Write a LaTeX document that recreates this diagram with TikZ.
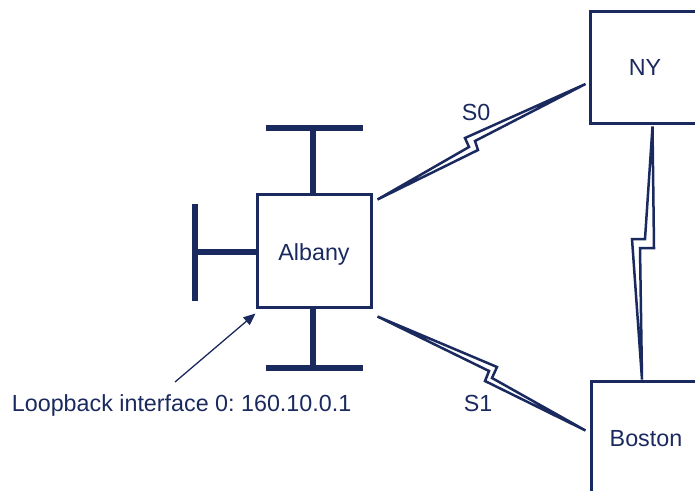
\documentclass[tikz,border=0pt]{standalone}
\usepackage{fontspec}
\setmainfont{Liberation Sans}
\usetikzlibrary{arrows.meta,calc}
\definecolor{navy}{RGB}{27,42,94}
\frenchspacing
\begin{document}
\begin{tikzpicture}[x=1pt,y=-1pt,
  box/.style={draw=navy,line width=3pt,inner sep=0pt,text=navy,font=\fontsize{23.3}{28}\selectfont,text height=16.7pt,text depth=0pt},
  lbl/.style={text=navy,font=\fontsize{23.3}{28}\selectfont,inner sep=0pt,text height=16.7pt,text depth=0pt},
  bar/.style={draw=navy,line width=5.3pt},
  serial/.style={draw=navy,line width=2.5pt,line join=miter},
  pointer/.style={draw=navy,line width=1.3pt,-{Triangle[length=12pt,width=10pt]}}]
\useasboundingbox (0,0) rectangle (695,490);
\clip (0,0) rectangle (695,490);
% routers
\node[box,minimum width=114pt,minimum height=113pt,text height=19pt] (albany) at (314,250.5) {Albany};
\node[box,minimum width=110pt,minimum height=112pt] (ny) at (645,67) {NY};
\node[box,minimum width=110pt,minimum height=140pt] (boston) at (646,451) {};
\node[lbl] (bostonlabel) at (646,438.5) {Boston};
% labels
\node[lbl] (s0label) at (476,112) {S0};
\node[lbl] (s1label) at (478,403) {S1};
\node[lbl,anchor=base west] (loop) at (11.7,411.5) {Loopback interface 0: 160.10.0.1};
% LAN segments
\coordinate (ttop) at (313,128);
\coordinate (tbot) at (313,368);
\coordinate (tleft) at (195,252);
\draw[bar] (ttop |- albany.north) -- (ttop);
\draw[bar] ($(ttop)+(-47,0)$) -- ($(ttop)+(50,0)$);
\draw[bar] (tbot |- albany.south) -- (tbot);
\draw[bar] ($(tbot)+(-47,0)$) -- ($(tbot)+(50,0)$);
\draw[bar] (tleft -| albany.west) -- (tleft);
\draw[bar] ($(tleft)+(0,-48)$) -- ($(tleft)+(0,49)$);
% serial links
\coordinate (s0a) at ($(albany.north east)+(5,7)$);
\coordinate (s0b) at ($(ny.west)+(-3,17)$);
\draw[serial] (s0a) -- (469,147) -- (465,138) -- (s0b) -- (475,141) -- (478,150) -- cycle;
\coordinate (s1a) at ($(albany.south east)+(5,8)$);
\coordinate (s1b) at ($(boston.north west)+(-4,51)$);
\draw[serial] (s1a) -- (497,367) -- (492,378) -- (s1b) -- (485,381) -- (489,371) -- cycle;
\coordinate (nyb) at ($(ny.south)+(7.5,2)$);
\coordinate (bosb) at ($(boston.north)+(-4,0)$);
\draw[serial] (nyb) -- (645,239) -- (632,239) -- (bosb) -- (640,248) -- (654,248) -- cycle;
% loopback pointer
\coordinate (arrowtail) at (175,382);
\draw[pointer] (arrowtail) -- ($(albany.south west)+(0,5)$);
\end{tikzpicture}
\end{document}
